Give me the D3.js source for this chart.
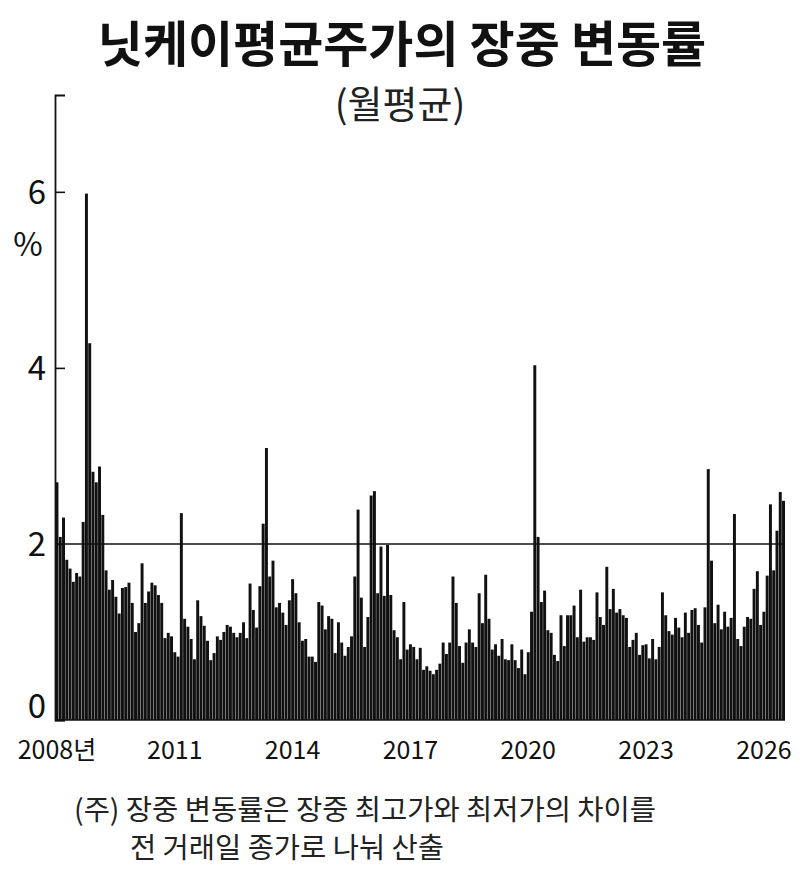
<!DOCTYPE html>
<html><head><meta charset="utf-8">
<script src="https://cdn.jsdelivr.net/npm/d3@7"></script>
<style>body{margin:0;background:#fff}svg{display:block;font-family:"Noto Sans CJK KR","Noto Sans",sans-serif}</style>
</head><body><div id="c"></div>
<script>
const startYear = 2008;
const values = [
2.7,2.08,2.3,1.82,1.72,1.57,1.67,1.63,2.25,5.98,4.28,2.82,
2.7,2.88,2.33,1.7,1.48,1.59,1.4,1.21,1.5,1.51,1.56,1.33,
1.0,1.1,1.78,1.33,1.46,1.56,1.53,1.42,1.33,0.93,0.99,0.95,
0.77,0.72,2.35,1.15,1.06,0.92,0.69,1.36,1.18,1.07,0.9,0.68,
0.76,0.95,0.91,1.0,1.08,1.06,0.99,0.94,0.99,1.11,0.93,1.55,
1.25,1.05,1.52,2.23,3.09,1.63,1.81,1.28,1.33,1.22,1.08,1.36,
1.6,1.44,1.11,0.9,0.92,0.72,0.72,0.66,1.34,1.3,1.03,1.18,
1.15,0.76,1.11,0.88,0.73,0.83,0.95,1.63,2.39,1.39,0.83,1.17,
2.55,2.6,1.44,1.97,1.41,1.99,1.42,1.02,0.94,0.69,1.34,0.8,
0.86,0.83,0.69,0.82,0.57,0.61,0.56,0.52,0.57,0.64,0.88,0.75,
0.88,1.63,1.33,0.84,0.65,0.88,1.03,0.88,0.83,1.44,1.1,1.65,
1.15,0.8,0.86,0.73,0.92,0.69,0.68,0.86,0.68,0.59,0.8,0.52,
0.77,1.23,4.03,2.08,1.34,1.47,1.02,0.99,0.74,0.67,1.19,0.84,
1.19,1.19,1.3,0.94,1.48,0.89,0.94,0.94,0.91,1.45,1.17,1.08,
1.74,1.26,1.49,1.22,1.26,1.19,1.16,0.83,0.91,0.99,0.74,0.85,
0.86,0.7,0.92,0.69,0.83,1.45,1.19,1.01,0.97,1.16,1.05,0.94,
1.22,0.99,1.25,1.27,1.08,0.88,1.28,2.85,1.81,1.1,1.31,1.03,
1.23,1.06,1.16,2.34,0.92,0.84,1.06,1.17,1.15,1.49,1.69,1.08,
1.23,1.64,2.45,1.7,2.15,2.59,2.49
];
const yTicks = [0,2,4,6];
const xTickYears = [2008,2011,2014,2017,2020,2023,2026];
const refLine = 2;
const title = "닛케이평균주가의 장중 변동률";
const subtitle = "(월평균)";
const notes = ["(주) 장중 변동률은 장중 최고가와 최저가의 차이를", "전 거래일 종가로 나눠 산출"];

const W=800,H=875, left=55, right=785, bottom=720;
const svg=d3.select("#c").append("svg").attr("width",W).attr("height",H);
const x=d3.scaleBand().domain(d3.range(values.length)).range([left+0.5,right]).paddingInner(0.1);
const y=d3.scaleLinear().domain([0,7.1]).range([bottom,95]);

svg.append("g").selectAll("rect").data(values).join("rect")
 .attr("x",(d,i)=>x(i)).attr("width",x.bandwidth())
 .attr("y",d=>y(d)).attr("height",d=>bottom-y(d)).attr("fill","#111");

svg.append("line").attr("x1",left).attr("x2",right).attr("y1",y(refLine)).attr("y2",y(refLine)).attr("stroke","#111").attr("stroke-width",1.6);
const ya=svg.append("g").attr("transform",`translate(${left},0)`).call(d3.axisRight(y).tickValues(yTicks).tickSize(10).tickFormat(""));
ya.select(".domain").attr("stroke","#111").attr("stroke-width",1.8);
ya.selectAll(".tick line").attr("stroke","#111").attr("stroke-width",1.6);
svg.selectAll(".ylab").data(yTicks).join("text").attr("x",46).attr("y",d=>d===0? y(d)-2 : y(d)+12)
 .attr("text-anchor","end").attr("font-size",33).attr("fill","#111").text(d=>d);
svg.append("text").attr("x",28).attr("y",256).attr("text-anchor","middle").attr("font-size",32).attr("fill","#111").text("%");
svg.append("line").attr("x1",left).attr("x2",right).attr("y1",bottom).attr("y2",bottom).attr("stroke","#111").attr("stroke-width",1.6);

svg.selectAll(".xlab").data(xTickYears).join("text")
 .attr("x",d=>x((d-startYear)*12)+x.bandwidth()/2).attr("y",759)
 .attr("text-anchor","middle").attr("font-size",25).attr("fill","#111")
 .text(d=>d===startYear? d+"년": d);

svg.append("text").attr("x",402).attr("y",62).attr("text-anchor","middle").attr("font-size",49).attr("font-weight",700).attr("fill","#111").text(title);
svg.append("text").attr("x",400).attr("y",118).attr("text-anchor","middle").attr("font-size",38).attr("fill","#222").text(subtitle);
svg.append("text").attr("x",74).attr("y",820).attr("font-size",28.5).attr("fill","#222").text(notes[0]);
svg.append("text").attr("x",130).attr("y",858).attr("font-size",28.5).attr("fill","#222").text(notes[1]);
</script></body></html>
